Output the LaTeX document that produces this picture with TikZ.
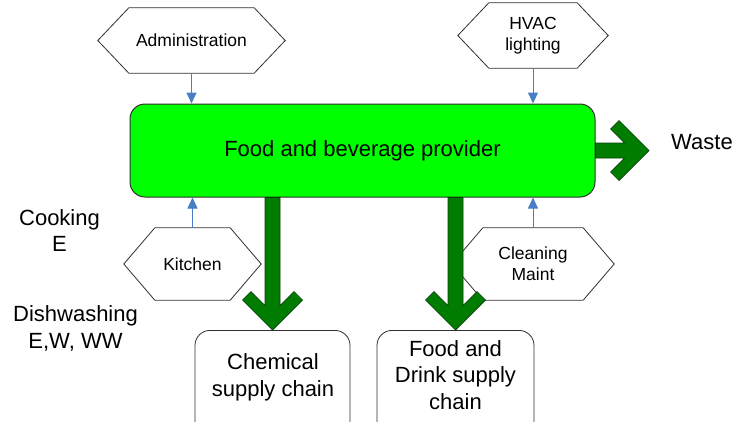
\documentclass[tikz,border=0pt]{standalone}
\usepackage{fontspec}
\setmainfont{Liberation Sans}
\usetikzlibrary{arrows.meta,calc}
\definecolor{mainG}{HTML}{00FF00}
\definecolor{arrG}{HTML}{007D00}
\definecolor{arrEdge}{HTML}{0A3F0A}
\definecolor{blueA}{HTML}{4A7DC6}
\definecolor{edgeC}{HTML}{303030}

\newcommand\hexdraw[1]{%
  \draw[hexline] (#1.west) -- ([xshift=31pt]#1.north west) -- ([xshift=-31pt]#1.north east)
    -- (#1.east) -- ([xshift=-31pt]#1.south east) -- ([xshift=31pt]#1.south west) -- cycle;}
% thick chevron arrow pointing down: #1 start, #2 tip
\newcommand\chevdown[2]{%
  \filldraw[garrow] let \p1=(#1), \p2=(#2) in
    (\x2-7.5pt,\y1) -- (\x2-7.5pt,\y2+24.47pt) -- (\x2-21.515pt,\y2+38.485pt)
    -- (\x2-30pt,\y2+30pt) -- (\x2,\y2) -- (\x2+30pt,\y2+30pt)
    -- (\x2+21.515pt,\y2+38.485pt) -- (\x2+7.5pt,\y2+24.47pt) -- (\x2+7.5pt,\y1) -- cycle;}
% thick chevron arrow pointing right: #1 start, #2 tip
\newcommand\chevright[2]{%
  \filldraw[garrow] let \p1=(#1), \p2=(#2) in
    (\x1,\y2+7.5pt) -- (\x2-24.47pt,\y2+7.5pt) -- (\x2-38.485pt,\y2+21.515pt)
    -- (\x2-30pt,\y2+30pt) -- (\x2,\y2) -- (\x2-30pt,\y2-30pt)
    -- (\x2-38.485pt,\y2-21.515pt) -- (\x2-24.47pt,\y2-7.5pt) -- (\x1,\y2-7.5pt) -- cycle;}

\begin{document}
\begin{tikzpicture}[x=1pt,y=-1pt,
  bigtext/.style={font=\fontsize{22}{26.5}\selectfont, align=center, inner sep=0pt},
  hextext/.style={font=\fontsize{17.5}{21}\selectfont, align=center, inner sep=0pt},
  hexline/.style={draw=edgeC, line width=0.8pt, fill=white},
  mainbox/.style={draw=edgeC, line width=1pt, fill=mainG, rounded corners=15pt,
    font=\fontsize{22}{26.5}\selectfont, inner sep=0pt},
  supplybox/.style={draw=edgeC, line width=0.8pt, fill=white, rounded corners=15pt, inner sep=0pt},
  bluearrow/.style={draw=blueA, line width=1pt, -{Triangle[width=10pt,length=11pt]}},
  garrow/.style={fill=arrG, draw=arrEdge, line width=0.7pt, line join=miter}
]
\useasboundingbox (0,0) rectangle (736,421);
\clip (0,0) rectangle (736,421);

% main box
\node[mainbox, minimum width=465pt, minimum height=93pt] (main) at (362.5,150.5)
  {Food and beverage provider};

% hexagons
\node[hextext, minimum width=187pt, minimum height=65pt] (admin) at (191.5,40.5) {};
\node[hextext, minimum width=150pt, minimum height=65pt] (hvac) at (533,35.5) {};
\node[hextext, minimum width=137pt, minimum height=72pt] (kitchen) at (192.5,264) {};
\node[hextext, minimum width=162pt, minimum height=72pt] (clean) at (533,264) {};
\hexdraw{admin}
\hexdraw{hvac}
\hexdraw{kitchen}
\hexdraw{clean}
\node[hextext] at (admin) {Administration};
\node[hextext] at (hvac) {HVAC\\lighting};
\node[hextext] at (kitchen) {Kitchen};
\node[hextext] at (clean) {Cleaning\\Maint};

% blue connectors
\draw[bluearrow] (admin.south) -- (admin.south |- main.north);
\draw[bluearrow] (hvac.south) -- (hvac.south |- main.north);
\draw[bluearrow] (kitchen.north) -- (kitchen.north |- main.south);
\draw[bluearrow] (clean.north) -- (clean.north |- main.south);

% supply chain boxes
\node[supplybox, minimum width=155pt, minimum height=120pt, anchor=north] (chem) at (272.5,330) {};
\node[supplybox, minimum width=157pt, minimum height=120pt, anchor=north] (food) at (455.5,330) {};
\node[bigtext] (chemtext) at (273,377.3) {Chemical\\supply chain};
\node[bigtext] (foodtext) at (455.5,375) {Food and\\Drink supply\\chain};

% waste label
\node[bigtext, anchor=west] (waste) at (671,142.5) {Waste};
\coordinate (wastetip) at (649,150.5);

% thick green arrows
\chevdown{main.south -| chem.north}{chem.north}
\chevdown{main.south -| food.north}{food.north}
\chevright{main.east}{wastetip}

% side labels
\node[bigtext] (cooking) at (59.5,230.5) {Cooking\\E};
\node[bigtext] (dish) at (75.5,328.6) {Dishwashing\\E,W, WW};
\end{tikzpicture}
\end{document}
